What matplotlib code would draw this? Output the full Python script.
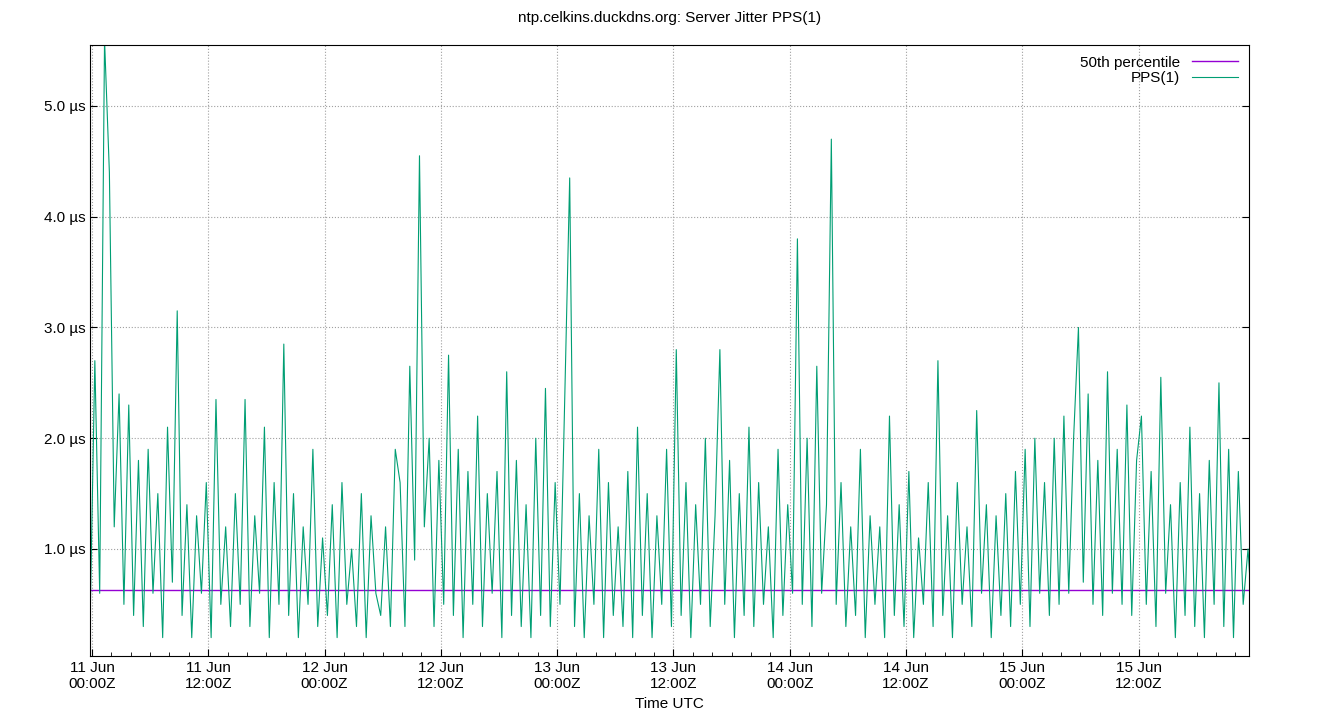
import matplotlib
matplotlib.use("Agg")
import matplotlib.pyplot as plt
import numpy as np

# jitter in microseconds, one sample every half hour from 11 Jun 00:00Z (approx)
jitter = [
    0.3, 2.7, 0.6, 5.6, 4.4, 1.2, 2.4, 0.5, 2.3, 0.4,
    1.8, 0.3, 1.9, 0.6, 1.5, 0.2, 2.1, 0.7, 3.15, 0.4,
    1.4, 0.2, 1.3, 0.6, 1.6, 0.2, 2.35, 0.5, 1.2, 0.3,
    1.5, 0.5, 2.35, 0.3, 1.3, 0.6, 2.1, 0.2, 1.6, 0.5,
    2.85, 0.4, 1.5, 0.2, 1.2, 0.5, 1.9, 0.3, 1.1, 0.4,
    1.4, 0.2, 1.6, 0.5, 1.0, 0.3, 1.5, 0.2, 1.3, 0.6, 0.4, 1.2, 0.3, 1.9,
    1.6, 0.3, 2.65, 0.9, 4.55, 1.2, 2.0, 0.3, 1.8, 0.5,
    2.75, 0.4, 1.9, 0.2, 1.7, 0.5, 2.2, 0.3, 1.5, 0.6,
    1.7, 0.2, 2.6, 0.4, 1.8, 0.3, 1.4, 0.2, 2.0, 0.4,
    2.45, 0.3, 1.6, 0.5, 2.4, 4.35, 0.3, 1.5, 0.2, 1.3,
    0.5, 1.9, 0.2, 1.6, 0.4, 1.2, 0.3, 1.7,
    0.2, 2.1, 0.4, 1.5, 0.2, 1.3, 0.5, 1.9, 0.3, 2.8,
    0.4, 1.6, 0.2, 1.4, 0.5, 2.0, 0.3, 1.3, 2.8, 0.5,
    1.8, 0.2, 1.5, 0.4, 2.1, 0.3, 1.6, 0.5, 1.2, 0.2,
    1.9, 0.4, 1.4, 0.6, 3.8, 0.5, 2.0, 0.3, 2.65, 0.6,
    1.4, 4.7, 0.5, 1.6, 0.3, 1.2, 0.4, 1.9, 0.2, 1.3,
    0.5, 1.2, 0.2, 2.2, 0.4, 1.4, 0.3, 1.7, 0.2, 1.1,
    0.5, 1.6, 0.3, 2.7, 0.4, 1.3, 0.2, 1.6, 0.5, 1.2,
    0.3, 2.25, 0.6, 1.4, 0.2, 1.3, 0.4, 1.5, 0.3, 1.7,
    0.5, 1.9, 0.3, 2.0, 0.6, 1.6, 0.4, 2.0, 0.5, 2.2,
    0.6, 2.0, 3.0, 0.7, 2.4, 0.5, 1.8, 0.4, 2.6, 0.6,
    1.9, 0.5, 2.3, 0.4, 1.8, 2.2, 0.5, 1.7, 0.3, 2.55,
    0.6, 1.4, 0.2, 1.6, 0.4, 2.1, 0.3, 1.5, 0.2, 1.8,
    0.5, 2.5, 0.3, 1.9, 0.2, 1.7, 0.5, 1.0, 0.3, 1.7,
]
start_h = -0.2
step_h = 0.5
median = 0.63
tick_hours = [0, 12, 24, 36, 48, 60, 72, 84, 96, 108]
tick_labels = ["11 Jun\n00:00Z", "11 Jun\n12:00Z", "12 Jun\n00:00Z", "12 Jun\n12:00Z",
               "13 Jun\n00:00Z", "13 Jun\n12:00Z", "14 Jun\n00:00Z", "14 Jun\n12:00Z",
               "15 Jun\n00:00Z", "15 Jun\n12:00Z"]
y_ticks = [1.0, 2.0, 3.0, 4.0, 5.0]

hours = start_h + step_h * np.arange(len(jitter))
end_h = 119.4

plt.rcParams["font.family"] = ["Liberation Sans", "DejaVu Sans"]
fig = plt.figure(figsize=(13.4, 7.2), dpi=100)
ax = fig.add_axes([90 / 1340, 64 / 720, 1159 / 1340, 611 / 720])

ax.plot([start_h, end_h], [median, median], color="#9400d3", lw=1, label="50th percentile")
ax.plot(hours, jitter, color="#009e73", lw=0.8, label="PPS(1)")

ax.set_xlim(start_h, end_h)
ax.set_ylim(0.034, 5.55)
ax.set_xticks(tick_hours)
ax.set_xticklabels(tick_labels)
ax.set_xticks(np.arange(0, 120, 2), minor=True)
ax.set_yticks(y_ticks)
ax.set_yticklabels([f"{v:.1f} µs" for v in y_ticks])
ax.tick_params(labelsize=11, direction="in", length=5)
ax.tick_params(which="minor", direction="in", length=3)
ax.tick_params(axis="y", right=True)
ax.grid(True, color="#a0a0a0", ls=":", lw=0.8)
ax.set_xlabel("Time UTC", fontsize=11)
fig.suptitle("ntp.celkins.duckdns.org: Server Jitter PPS(1)", fontsize=11, y=0.985)
ax.legend(loc="upper right", frameon=False, markerfirst=False, fontsize=11,
          handlelength=3, borderaxespad=0.3, labelspacing=0.1)

fig.savefig("out.png", dpi=100)
